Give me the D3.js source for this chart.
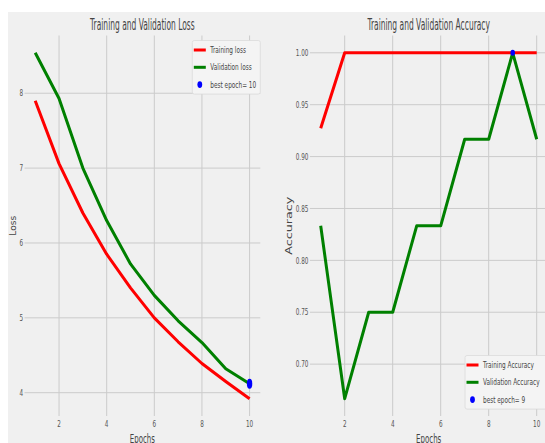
<!DOCTYPE html>
<html>
<head>
<meta charset="utf-8">
<script src="https://cdn.jsdelivr.net/npm/d3@7"></script>
<style>
  body { margin: 0; background: #fff; }
  svg { display: block; font-family: "DejaVu Sans", sans-serif; }
</style>
</head>
<body>
<div id="chart"></div>
<script>
// data
const epochs = [1, 2, 3, 4, 5, 6, 7, 8, 9, 10];
const trainLoss = [7.90, 7.06, 6.40, 5.85, 5.40, 5.00, 4.68, 4.39, 4.15, 3.92];
const valLoss = [8.54, 7.93, 7.00, 6.30, 5.72, 5.30, 4.96, 4.67, 4.32, 4.12];
const trainAcc = [0.9273, 1, 1, 1, 1, 1, 1, 1, 1, 1];
const valAcc = [0.8333, 0.6667, 0.75, 0.75, 0.8333, 0.8333, 0.9167, 0.9167, 1.0, 0.9167];
const epochTicks = [2, 4, 6, 8, 10];
const lossTicks = [4, 5, 6, 7, 8];
const accTicks = [0.70, 0.75, 0.80, 0.85, 0.90, 0.95, 1.00];

const W = 545, H = 443;
const svg = d3.select("#chart").append("svg").attr("width", W).attr("height", H);

// figure background (fivethirtyeight-ish)
svg.append("rect").attr("x", 8).attr("y", 12).attr("width", W).attr("height", H)
    .attr("fill", "#f0f0f0");

// squeeze text horizontally to look like the narrow picture
function squeeze(sel, k) {
    sel.each(function () {
        let w = this.getComputedTextLength();
        d3.select(this).attr("textLength", w * k).attr("lengthAdjust", "spacingAndGlyphs");
    });
}

function padded(vals) {
    let ext = d3.extent(vals);
    let m = (ext[1] - ext[0]) * 0.05;
    return [ext[0] - m, ext[1] + m];
}

let bestLoss = d3.minIndex(valLoss);
let bestAcc = d3.maxIndex(valAcc);

const panels = [
    {
        left: 24.5, right: 260.3, title: "Training and Validation Loss", ylabel: "Loss",
        ylabelLen: 20, ylabelX: 16,
        ticks: lossTicks, fmt: d3.format("d"),
        train: trainLoss, val: valLoss, best: bestLoss, bestVal: valLoss[bestLoss],
        dot: {rx: 2.7, ry: 5},
        names: ["Training loss", "Validation loss", "best epoch= " + (bestLoss + 1)],
        legend: {x: 192.3, y: 50, w: 68}
    },
    {
        left: 309.9, right: 547.5, title: "Training and Validation Accuracy", ylabel: "Accuracy",
        ylabelLen: 58, ylabelX: 292,
        ticks: accTicks, fmt: d3.format(".2f"),
        train: trainAcc, val: valAcc, best: bestAcc, bestVal: valAcc[bestAcc],
        dot: {rx: 2.3, ry: 3},
        names: ["Training Accuracy", "Validation Accuracy", "best epoch= " + (bestAcc + 1)],
        legend: {x: 465, y: 365, w: 85}
    }
];

const plotTop = 35.5, plotBottom = 416;

panels.forEach(function (p) {
    let g = svg.append("g");

    let x = d3.scaleLinear().domain(padded(epochs)).range([p.left, p.right]);
    let y = d3.scaleLinear().domain(padded(p.train.concat(p.val))).range([plotBottom, plotTop]);

    // grid
    g.selectAll(".vgrid").data(epochTicks).join("line")
        .attr("class", "vgrid")
        .attr("x1", d => x(d)).attr("x2", d => x(d))
        .attr("y1", plotTop).attr("y2", plotBottom)
        .attr("stroke", "#cbcbcb").attr("stroke-width", 1);
    g.selectAll(".hgrid").data(p.ticks).join("line")
        .attr("class", "hgrid")
        .attr("x1", p.left).attr("x2", p.right)
        .attr("y1", d => y(d)).attr("y2", d => y(d))
        .attr("stroke", "#cbcbcb").attr("stroke-width", 1);

    // tick labels
    g.selectAll(".ytick").data(p.ticks).join("text")
        .attr("class", "ytick")
        .attr("x", p.left - 1.5).attr("y", d => y(d)).attr("dy", "0.35em")
        .attr("text-anchor", "end").attr("font-size", 9).attr("fill", "#555")
        .text(d => p.fmt(d))
        .call(squeeze, 0.63);
    g.selectAll(".xtick").data(epochTicks).join("text")
        .attr("class", "xtick")
        .attr("x", d => x(d)).attr("y", 426.7)
        .attr("text-anchor", "middle").attr("font-size", 9).attr("fill", "#555")
        .text(d => d)
        .call(squeeze, 0.63);

    // title and axis labels
    let cx = (p.left + p.right) / 2;
    g.append("text").attr("x", cx).attr("y", 30)
        .attr("text-anchor", "middle").attr("font-size", 16).attr("fill", "#444")
        .text(p.title).call(squeeze, 0.47);
    g.append("text").attr("x", cx).attr("y", 442.5)
        .attr("text-anchor", "middle").attr("font-size", 13).attr("fill", "#444")
        .text("Epochs").call(squeeze, 0.54);
    g.append("text")
        .attr("transform", "translate(" + p.ylabelX + "," + ((plotTop + plotBottom) / 2) + ") rotate(-90) scale(1,0.7)")
        .attr("text-anchor", "middle").attr("font-size", 13).attr("fill", "#444")
        .attr("textLength", p.ylabelLen).attr("lengthAdjust", "spacingAndGlyphs")
        .text(p.ylabel);

    // lines
    let line = d3.line().x((d, i) => x(epochs[i])).y(d => y(d));
    g.append("path").datum(p.train).attr("d", line)
        .attr("fill", "none").attr("stroke", "#ff0000").attr("stroke-width", 3)
        .attr("stroke-linejoin", "round");
    g.append("path").datum(p.val).attr("d", line)
        .attr("fill", "none").attr("stroke", "#008000").attr("stroke-width", 3)
        .attr("stroke-linejoin", "round");

    // best epoch marker
    g.append("ellipse")
        .attr("cx", x(epochs[p.best])).attr("cy", y(p.bestVal))
        .attr("rx", p.dot.rx).attr("ry", p.dot.ry).attr("fill", "#0000ff");

    // legend
    let L = p.legend, step = 17.3;
    g.append("rect")
        .attr("x", L.x).attr("y", L.y - 9.5).attr("width", L.w).attr("height", step * 2 + 19)
        .attr("rx", 2).attr("fill", "#f4f4f4").attr("stroke", "#dadada").attr("stroke-width", 0.8);
    let colors = ["#ff0000", "#008000"];
    colors.forEach(function (c, i) {
        g.append("line")
            .attr("x1", L.x + 1.5).attr("x2", L.x + 13.5)
            .attr("y1", L.y + i * step).attr("y2", L.y + i * step)
            .attr("stroke", c).attr("stroke-width", 3);
    });
    g.append("ellipse")
        .attr("cx", L.x + 7.5).attr("cy", L.y + 2 * step)
        .attr("rx", 2.4).attr("ry", 3.4).attr("fill", "#0000ff");
    g.selectAll(".leg").data(p.names).join("text")
        .attr("class", "leg")
        .attr("x", L.x + 18).attr("y", (d, i) => L.y + i * step + 3)
        .attr("font-size", 8).attr("fill", "#444")
        .text(d => d)
        .call(squeeze, 0.72);
});
</script>
</body>
</html>
